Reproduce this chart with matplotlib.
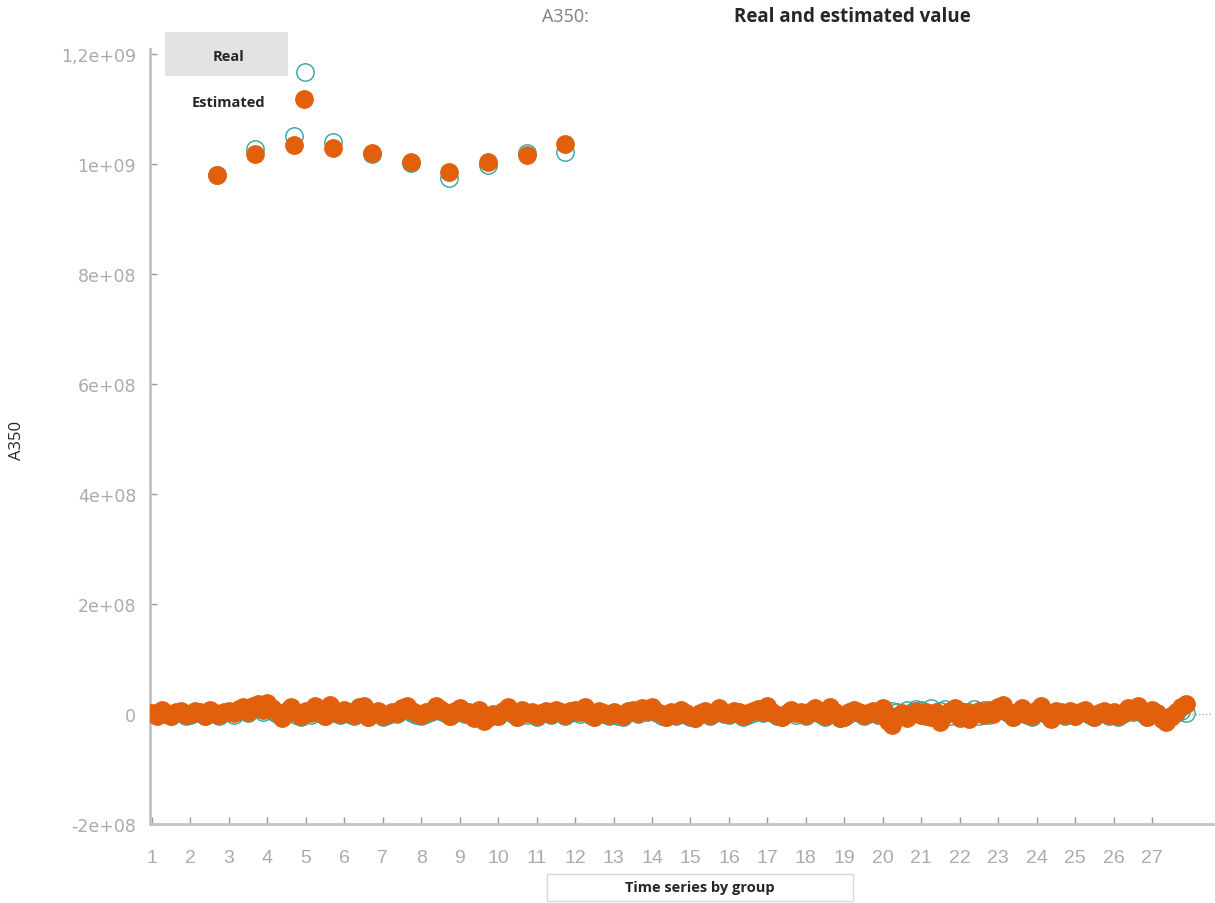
import numpy as np
import matplotlib
matplotlib.use("Agg")
import matplotlib.pyplot as plt
from matplotlib.patches import Rectangle

# near-zero band, 8 observations per group, values in millions
est_band = [
    [2, -3, 8, 1, -4, 3, 6, -2],
    [0, 5, 3, -3, 7, 2, -1, 4],
    [6, 1, 9, 12, 4, 14, 18, 8],
    [20, 10, 3, -8, 5, 13, 2, -4],
    [6, 2, 14, 5, -3, 16, 4, 0],
    [8, 3, -2, 12, 15, -5, 2, 6],
    [-3, 0, 4, 2, 10, 14, 5, 1],
    [-2, 3, 6, 14, 9, 4, -3, 5],
    [10, 2, 4, -8, 7, -12, -6, 0],
    [-3, 6, 12, 3, -5, 8, 1, 4],
    [-4, 2, 6, 0, 8, 4, -2, 5],
    [7, 3, 12, 1, -5, 6, 2, -2],
    [4, 0, -3, 5, 8, 2, 10, 6],
    [12, 4, 0, -6, 3, -2, 8, 1],
    [-4, -8, 2, 5, -2, 4, 10, 2],
    [0, 6, 3, -4, 1, 5, 9, 3],
    [14, 4, -2, -6, 2, 7, 1, 3],
    [-2, 6, 10, 2, -4, 12, 4, -8],
    [-6, 3, 8, 4, -2, 2, 6, 0],
    [10, -12, -20, -4, 2, -8, 0, 6],
    [-2, 4, -6, 3, -14, -2, 6, 10],
    [-8, 4, -10, 2, 5, -2, 8, 0],
    [12, 16, 4, -6, 3, 10, 0, -4],
    [8, 14, 2, -10, 6, 3, -2, 5],
    [-3, 4, 8, 0, -6, 2, 6, -2],
    [3, -4, 2, 10, 6, 14, 4, -6],
    [8, 2, -10, -14, -6, 4, 12, 18],
]
real_band = [
    [0, -2, 4, 0, -3, 2, 3, -4],
    [-2, 2, 1, -4, 4, 0, -3, 2],
    [3, -1, 5, 8, 1, 9, 12, 4],
    [14, 6, 0, -6, 2, 8, -1, -5],
    [3, -1, 9, 2, -4, 10, 1, -2],
    [5, 0, -4, 8, 10, -6, 0, 3],
    [-5, -2, 2, 0, 6, 9, 2, -2],
    [-4, 0, 3, 9, 5, 1, -4, 2],
    [6, 0, 1, -6, 4, -9, -5, -2],
    [-4, 3, 8, 0, -6, 5, -1, 2],
    [-5, 0, 3, -2, 5, 2, -4, 2],
    [4, 0, 8, -2, -6, 3, 0, -4],
    [1, -3, -5, 2, 5, 0, 6, 3],
    [8, 1, -3, -6, 0, -4, 5, -1],
    [-5, -7, 0, 2, -4, 1, 6, 0],
    [-2, 3, 0, -5, -1, 2, 6, 1],
    [9, 1, -4, -6, 0, 4, -1, 1],
    [-4, 3, 6, 0, -5, 8, 1, -7],
    [-6, 0, 5, 1, -4, 0, 3, -2],
    [4, -2, 6, 4, -3, 8, 3, 9],
    [7, -4, 10, -3, 6, 9, -4, 1],
    [6, -5, 4, 9, -3, 7, -2, 6],
    [8, 11, 1, -6, 0, 6, -2, -5],
    [5, 9, 0, -8, 3, 0, -4, 2],
    [-4, 1, 5, -2, -6, 0, 3, -4],
    [0, -5, 0, 6, 3, 9, 1, -6],
    [4, 0, -8, -10, -4, 2, 6, 2],
]

# isolated high observations (time index, value)
high_x_real = [2.69, 3.68, 4.69, 4.99, 5.71, 6.72, 7.73, 8.72, 9.74, 10.75, 11.74]
high_real = [0.980e9, 1.027e9, 1.051e9, 1.167e9, 1.040e9, 1.018e9, 1.002e9, 0.975e9, 0.998e9, 1.020e9, 1.022e9]
high_x_est = [2.69, 3.68, 4.69, 4.95, 5.71, 6.72, 7.73, 8.72, 9.74, 10.75, 11.74]
high_est = [0.980e9, 1.018e9, 1.035e9, 1.118e9, 1.029e9, 1.020e9, 1.004e9, 0.985e9, 1.004e9, 1.016e9, 1.036e9]

groups = list(range(1, 28))
ytick_vals = [-2e8, 0, 2e8, 4e8, 6e8, 8e8, 1e9, 1.2e9]
ytick_labels = ["-2e+08", "0", "2e+08", "4e+08", "6e+08", "8e+08", "1e+09", "1,2e+09"]

orange = "#e2600c"
teal = "#2fa6a0"
gray = "#ababab"

n = len(est_band[0])
band_x = np.array([g + k / n for g in groups for k in range(n)])
band_est = np.array(est_band).ravel() * 1e6
band_real = np.array(real_band).ravel() * 1e6

fig = plt.figure(figsize=(12.15, 9.04), dpi=100)
ax = fig.add_axes([150 / 1215, 79 / 904, 1063 / 1215, 775 / 904])

ms = 12.5
ax.axhline(0, color="#8fb8c8", lw=1, ls=(0, (1, 1.5)), zorder=0)
ax.plot(band_x, band_real, "o", ms=ms, mfc="none", mec=teal, mew=1.0, zorder=2)
ax.plot(high_x_real, high_real, "o", ms=ms, mfc="none", mec=teal, mew=1.0, zorder=2)
ax.plot(band_x, band_est, "o", ms=ms, color=orange, mec=orange, zorder=3)
ax.plot(high_x_est, high_est, "o", ms=ms, color=orange, mec=orange, zorder=3)

ax.set_xlim(0.948, 28.586)
ax.set_ylim(-2e8, 1.209e9)
ax.set_xticks(groups)
ax.set_xticklabels([str(g) for g in groups], family="Liberation Sans", fontsize=14, color=gray)
ax.set_yticks(ytick_vals)
ax.set_yticklabels(ytick_labels, family="DejaVu Sans", fontsize=12.5, color=gray)
ax.tick_params(axis="both", direction="in", length=5, width=1, color="#9a9a9a")
ax.tick_params(axis="x", pad=18)
ax.tick_params(axis="y", pad=10)

for s in ["top", "right"]:
    ax.spines[s].set_visible(False)
for s in ["left", "bottom"]:
    ax.spines[s].set_color("#c3c3c3")
    ax.spines[s].set_linewidth(2)

# titles
fig.text(565 / 1215, 1 - 17 / 904, "A350:", ha="center", va="center",
         fontsize=13, color="#808080", family="Open Sans")
fig.text(852 / 1215, 1 - 17 / 904, "Real and estimated value", ha="center", va="center",
         fontsize=13.5, fontweight="bold", color="#262626", family="Open Sans")
fig.text(17 / 1215, 1 - 440 / 904, "A350", ha="center", va="center", rotation=90,
         fontsize=12, color="#262626", family="Open Sans")

# legend
fig.patches.append(Rectangle((165 / 1215, 1 - 77 / 904), 123 / 1215, 44 / 904,
                             transform=fig.transFigure, facecolor="#e3e3e3", edgecolor="none"))
fig.text(228 / 1215, 1 - 57 / 904, "Real", ha="center", va="center",
         fontsize=10.5, fontweight="bold", color="#262626", family="Open Sans")
fig.text(228 / 1215, 1 - 103 / 904, "Estimated", ha="center", va="center",
         fontsize=10.5, fontweight="bold", color="#262626", family="Open Sans")

# x label in box
fig.patches.append(Rectangle((547 / 1215, 1 - 902 / 904), 306 / 1215, 27 / 904,
                             transform=fig.transFigure, facecolor="white", edgecolor="#d9d9d9", lw=1))
fig.text(700 / 1215, 1 - 888 / 904, "Time series by group", ha="center", va="center",
         fontsize=10.5, fontweight="bold", color="#262626", family="Open Sans")

fig.savefig("out.png", dpi=100)
